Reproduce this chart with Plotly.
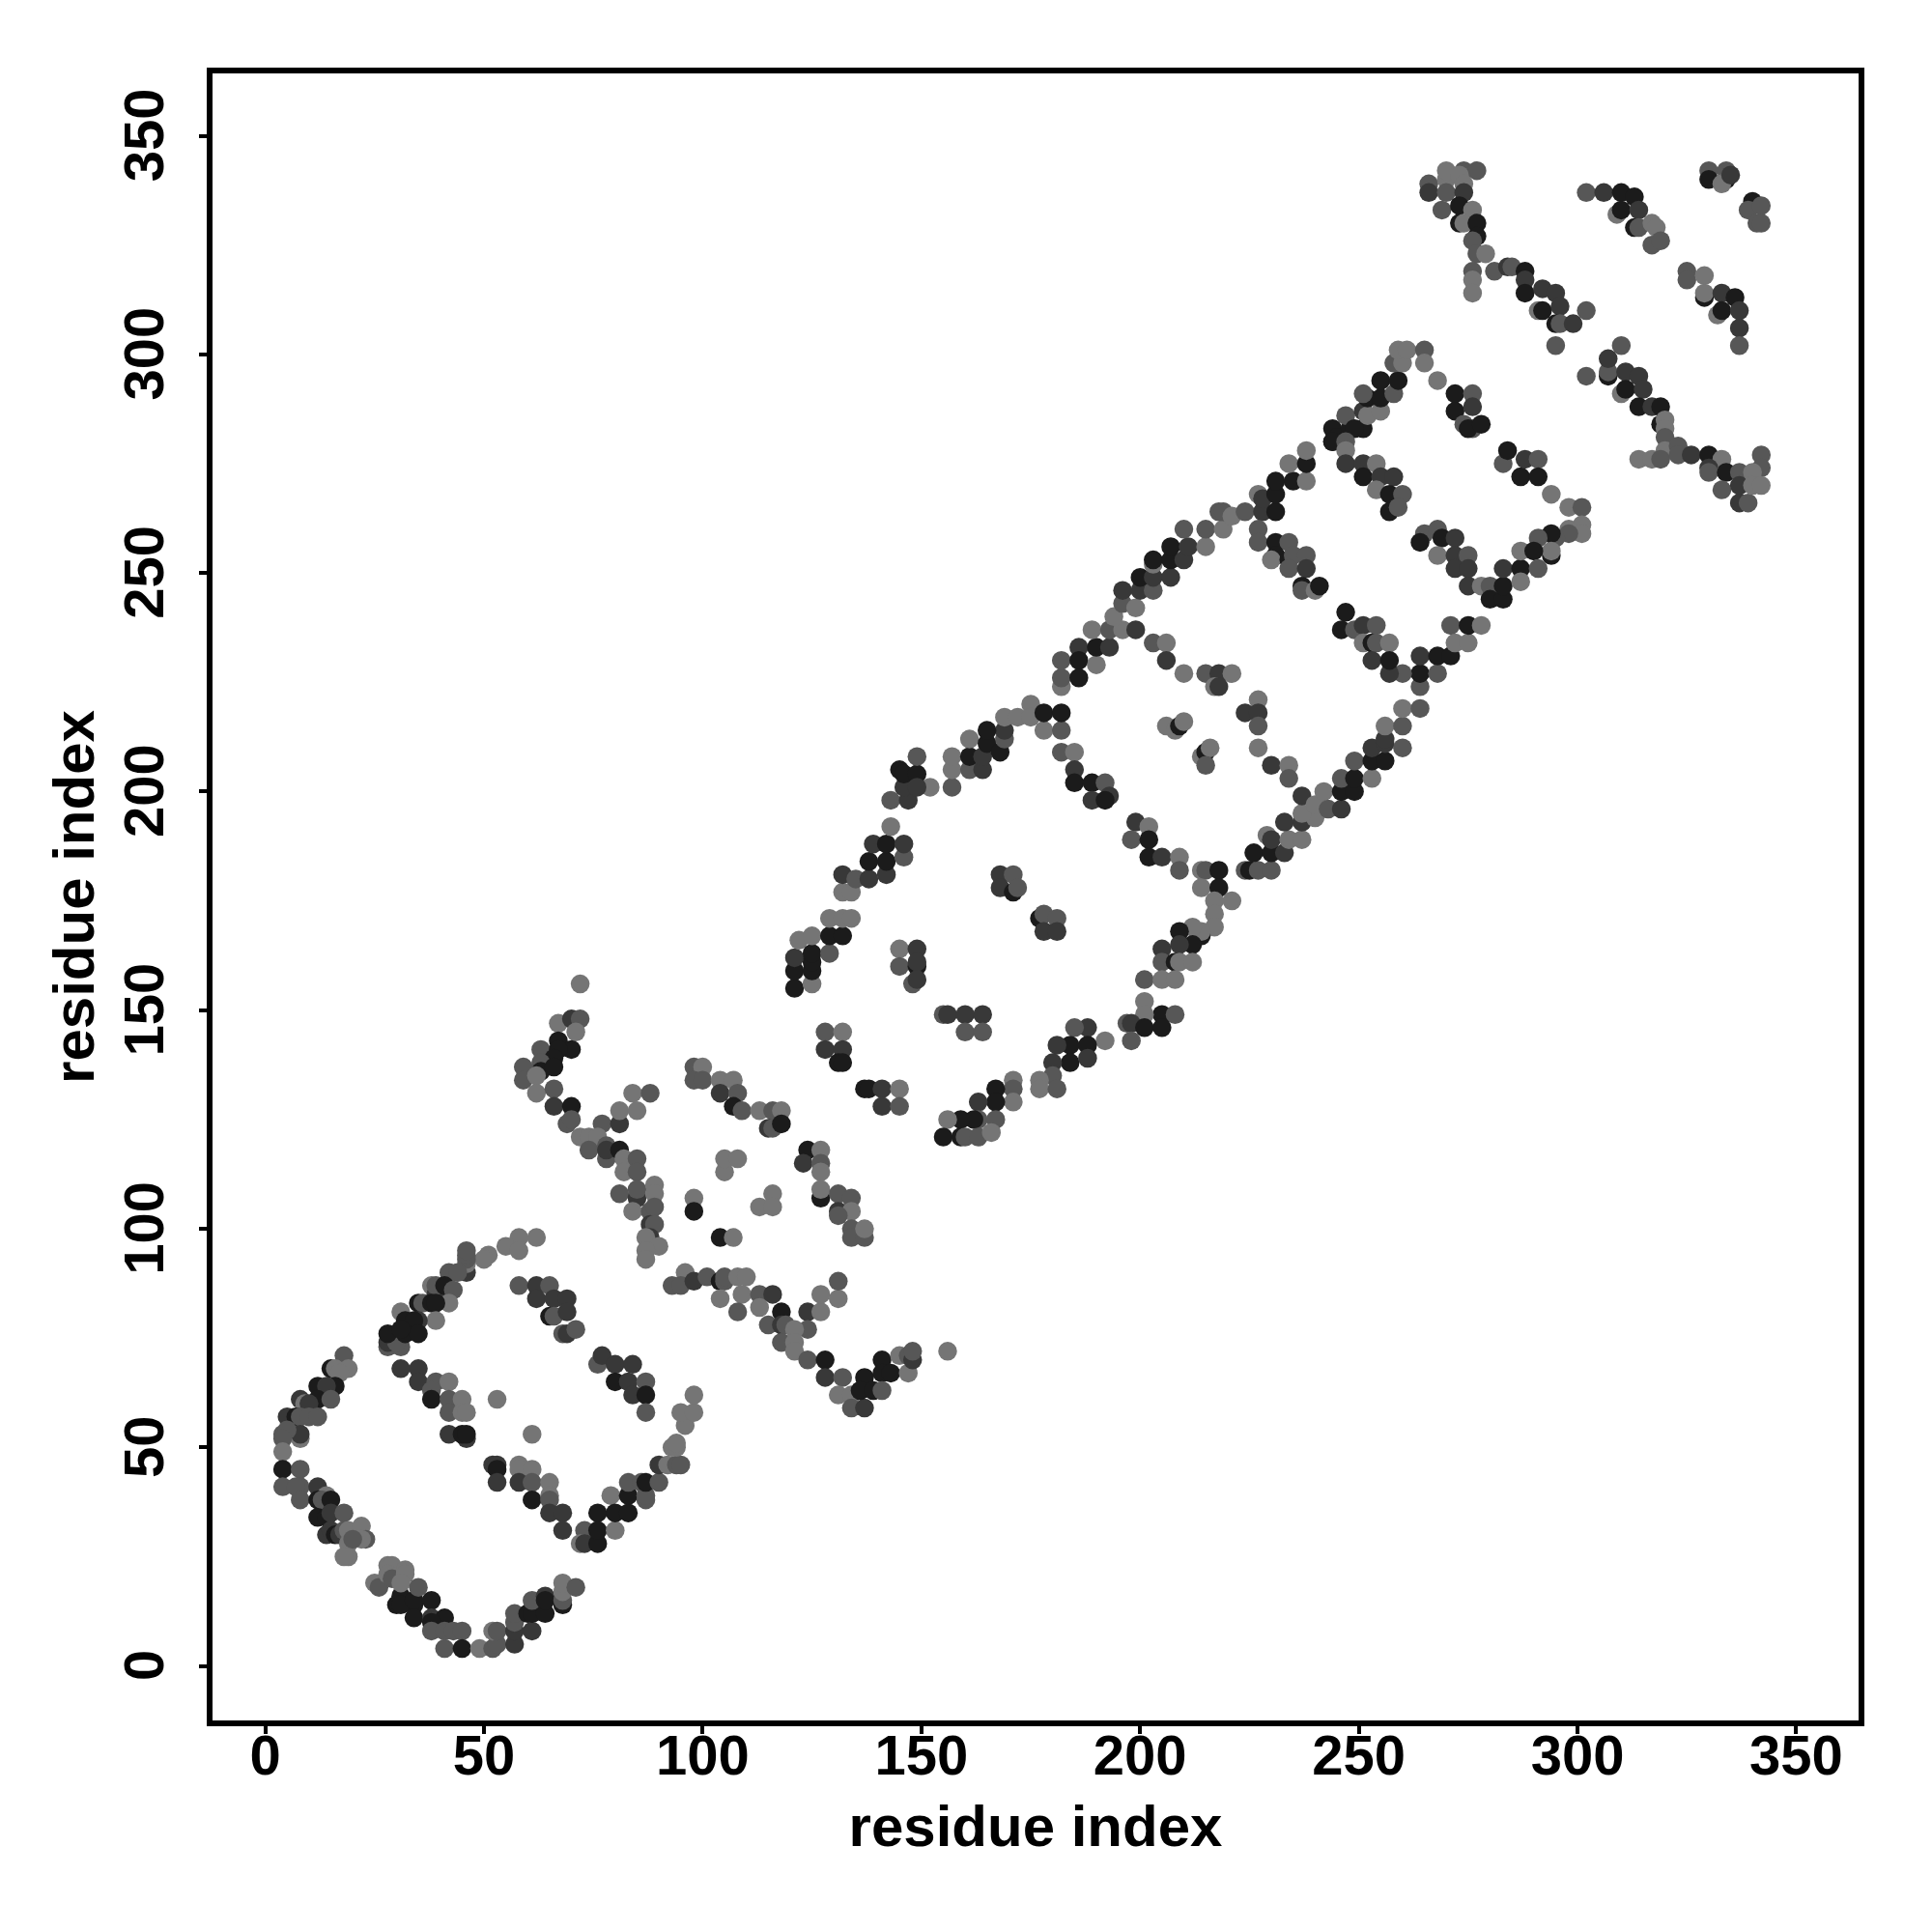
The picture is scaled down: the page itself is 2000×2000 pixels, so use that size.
import plotly.graph_objects as go

# shade classes: 0 darkest ... 3 lightest
shade_colors = ["#1b1b1b", "#383838", "#575757", "#757575"]
tick_values = [0, 50, 100, 150, 200, 250, 300, 350]
axis_title = "residue index"

# (residue i, residue j, shade class)
arc_top_left = [(62,98,3),(58,98,3),(55,96,3),(58,95,3),(51,94,3),(50,93,3),(46,90,1),(46,92,3),(46,93,2),(46,94,2),(46,95,2),
(42,90,2),(44,90,2),(38,87,3),(39,85,1),(39,87,2),(41,87,0),(43,86,2),(42,83,3),(35,83,0),(36,83,2),(38,83,0),(39,83,0),
(31,81,3),(39,79,3),(32,79,0),(35,79,1),(34,79,0),(28,73,2),(31,73,2),(28,74,1),(30,74,2),(28,76,0),(32,76,0),(35,76,0),(31,77,0)]
arc_left = [(18,71,2),(15,68,0),(16,68,3),(19,68,3),(17,67,3),(12,64,0),(16,64,0),(14,64,1),(12,61,0),(8,61,1),(9,60,3),(15,61,2),(10,60,1),
(5,57,1),(7,57,0),(8,57,2),(10,57,2),(12,57,2),(4,53,2),(8,52,3),(8,53,1),(5,54,2),(4,52,2),(4,49,3),(4,45,0),(8,45,2),
(4,41,2),(8,41,2),(7,41,2),(12,41,1),(8,38,2),(14,39,3),(12,38,0),(13,38,2),(15,38,0),(12,34,0),(14,34,0),(15,35,1),(18,35,2),
(14,30,1),(15,31,1),(16,30,0),(17,30,1),(18,31,2),(19,31,3),(22,32,3),(23,29,2),(22,29,3),(19,28,3),(19,25,3),(18,25,3),(20,29,2)]
arc_bottom = [(31,16,0),(30,14,0),(34,14,0),(31,14,0),(34,15,0),(38,15,0),(25,19,3),(26,18,2),(28,23,3),(29,23,3),(28,21,3),(29,20,2),(32,22,3),(32,21,3),(31,19,3),(35,18,2),
(34,11,0),(38,11,1),(41,11,0),(38,10,0),(38,8,2),(41,8,2),(43,8,2),(45,8,2),(41,4,2),(45,4,0),(49,4,3),(52,4,2),(53,5,2),
(52,8,3),(53,8,2),(57,5,1),(57,8,1),(61,8,1),(57,10,2),(57,12,2),(60,12,0),(61,12,0),(64,12,0),(61,15,2),(64,16,1),(64,15,0),
(68,14,0),(68,15,2),(68,17,3),(68,19,3),(71,18,2)]
inner_one = [(31,68,1),(35,68,1),(35,65,1),(39,65,2),(42,65,3),(38,63,2),(38,61,0),(42,61,2),(45,61,3),(42,58,2),(45,58,3),(46,58,3),
(42,53,1),(46,52,1),(45,53,0),(46,53,0),(53,61,3),(61,53,3),(52,46,1),(53,46,1),(53,45,0),(53,42,1),(58,46,3),(58,45,3),(61,45,3),
(58,42,1),(61,42,2),(65,42,3),(61,38,0),(65,39,3),(65,38,2),(65,35,1),(68,35,1),(68,31,1)]
arc_lower_right = [(73,31,2),(72,28,3),(73,28,1),(76,28,0),(76,31,0),(76,35,0),(80,31,3),(79,39,3),(80,35,0),(83,35,0),(83,39,0),(83,42,2),
(87,38,2),(87,39,2),(86,42,2),(87,42,0),(90,42,2),(90,46,1),(92,46,3),(94,46,2),(95,46,2),(93,50,3),(94,50,3),(94,51,3),
(96,55,3),(95,58,3),(98,58,3),(98,62,3)]
inner_two = [(58,87,2),(62,87,1),(65,87,2),(62,84,1),(66,84,1),(69,84,1),(65,80,0),(66,80,2),(69,81,1),(68,76,2),(69,76,1),(71,77,2),
(76,69,2),(77,71,1),(80,69,1),(84,69,1),(80,65,0),(83,65,1),(87,65,2),(84,62,1),(87,62,0),(87,58,2)]
arm_up = [(72,156,3),(67,147,3),(70,148,1),(72,148,2),(71,145,3),(67,143,0),(70,141,0),(63,141,2),(67,141,0),(66,139,0),(59,137,2),(63,138,2),(63,136,0),(66,137,0),
(59,134,2),(62,135,3),(62,131,3),(66,132,2),(66,128,1),(70,128,0),(69,124,2),(70,125,2),(77,124,2),(81,124,1),(81,127,3),(85,127,3),(84,131,3),(88,131,2),
(72,121,3),(74,121,3),(76,121,3),(74,118,2),(78,119,2),(78,116,2),(78,118,1),(81,118,0),(82,116,3),(85,116,2),(82,113,3),(85,113,2),
(81,108,2),(85,107,1),(85,109,2),(89,110,3),(89,108,3),(84,104,3),(88,104,2),(89,105,2),(88,101,1),(89,101,2),(88,98,1),(87,98,3),(90,96,3),(87,95,3),(87,93,3)]
inner_three = [(98,107,3),(98,104,0),(105,113,3),(105,116,3),(108,116,3),(104,98,0),(107,98,3),(116,108,3),(113,105,3),(116,105,3),
(98,137,2),(100,137,3),(98,134,2),(100,134,2),(104,134,3),(107,134,3),(104,131,1),(108,131,2),(107,128,0),(109,127,2),(113,127,3),(116,127,2),(118,127,3),(115,123,1),(116,123,2),(118,124,0),
(124,118,0),(127,118,3),(123,115,1),(127,115,2),(127,113,3),(127,107,0),(127,109,3),(131,108,2),(134,107,2),(131,104,1),(134,104,3),(131,103,2),(134,100,2),(134,98,2),(137,98,2),(137,100,3),
(128,145,2),(132,145,3),(128,141,1),(132,141,1),(131,138,0),(132,138,0),(137,132,0),(138,132,0),(141,132,1),(145,132,3),(141,128,1),(145,128,2)]
arm_down = [(93,87,2),(96,90,3),(95,87,2),(98,88,1),(101,89,2),(104,88,0),(105,88,2),(105,89,2),(108,89,3),(110,89,3),(104,84,3),(109,85,3),(113,85,2),(116,85,1),
(108,81,2),(113,82,3),(118,81,0),(124,81,1),(127,81,3),(127,85,3),(131,84,3),(131,88,2),(124,77,2),(115,78,2),(118,78,1),(119,78,2),(121,77,3),(118,74,2),(121,74,3),(121,72,3),
(124,70,2),(128,70,0),(128,66,1),(132,66,2),(131,62,3),(134,62,3),(134,59,2),(137,59,1),(137,66,0),(136,63,0),(141,70,0),(141,67,0),(143,67,0),(139,63,0),(141,63,2),
(145,71,3),(147,67,3),(147,71,2),(148,70,1),(148,72,2),(156,72,3)]
arc_mid_upper = [(121,155,0),(121,159,0),(125,156,3),(125,159,0),(121,162,1),(122,166,3),(125,161,0),(125,163,0),(125,167,3),(129,163,2),(129,167,0),(132,167,0),(129,171,3),(132,171,3),(134,171,3),
(132,177,3),(134,177,3),(132,181,1),(135,180,2),(138,180,1),(142,181,1),(138,184,0),(142,184,0),(146,185,2),(139,188,1),(142,188,0),(146,188,1),(143,192,3),
(143,198,2),(147,198,1),(146,201,1),(145,205,0),(146,204,0),(149,204,0),(149,208,2),(152,201,3),(149,201,1),(157,201,2),(157,205,3),(157,208,3),(161,205,2),(164,205,1),(161,208,0),(161,212,3),
(164,208,1),(165,211,0),(168,209,0),(169,212,2),(169,214,1),(165,214,0),(169,217,3),(172,217,3),(175,220,3),(175,217,3),(178,214,3),(182,214,2),(178,218,0),(182,218,0)]
strand_mid = [(182,209,2),(185,209,3),(185,205,1),(185,202,0),(189,202,0),(192,202,2),(189,198,1),(193,199,1),(192,198,0),(199,193,1),(202,192,3),(198,189,2),(202,189,0),(202,185,0),(205,185,1),(209,185,3),(209,182,2),
(214,182,3),(215,182,2),(218,182,0),(214,178,3),(218,178,0),(217,175,3),(221,175,3),(217,172,3),(217,169,3),(214,167,0),(214,168,3),(212,169,3),(209,168,0),(212,165,0),(209,165,1),(205,164,1),
(205,161,2),(208,161,0),(209,161,3),(212,161,3),(201,157,2),(205,157,3),(208,157,3),(201,152,3),(205,149,0),(208,149,2),(201,149,3),(197,147,2),(198,147,1),(201,146,0),(205,146,0),(198,143,2),
(192,143,3),(188,146,1),(185,146,2),(188,142,0),(184,142,0),(181,142,1),(184,138,0),(180,138,1),(188,139,1),(180,135,2),(177,134,3),(177,132,3),(181,132,2),
(171,134,3),(171,132,2),(171,129,3),(167,132,0),(167,129,0),(163,129,1),(167,125,2),(163,125,2),(162,125,0),(159,125,0),(156,125,3),(155,121,0),(159,121,0),(160,121,2),(163,121,2),(166,122,3)]
inner_four = [(168,181,1),(171,181,2),(168,178,1),(171,177,0),(172,178,2),(177,171,0),(178,172,2),(181,171,2),(178,168,1),(181,168,1),
(145,164,3),(149,164,1),(145,160,2),(149,160,0),(149,161,1),(148,156,2),(149,157,1),(155,149,2),(156,149,1),(160,149,1),(164,149,1),(160,145,2),(164,145,2),
(206,215,3),(208,214,3),(209,215,0),(210,216,3),(214,208,3),(215,209,0),(216,210,3),(215,206,2)]
arc_upper_two = [(182,224,3),(182,226,2),(182,230,2),(186,233,1),(186,230,0),(186,226,0),(190,229,3),(190,233,0),(189,237,3),(193,233,1),(193,237,2),(196,237,3),(199,237,1),(194,240,3),(196,243,2),(199,242,3),
(196,246,1),(200,246,1),(203,246,2),(200,249,0),(203,249,1),(207,249,1),(203,252,3),(203,253,0),(207,253,0),(210,253,1),(207,256,0),(211,256,1),(210,260,2),
(215,256,3),(215,260,2),(219,260,3),(218,264,2),(219,264,2),(221,263,3),(224,264,2),(228,264,1),(231,264,0),(227,268,3),(228,267,1),(231,268,0),(231,271,0),(235,271,0),(234,275,3),(238,271,3),(238,275,0),(238,278,3),
(244,280,0),(244,283,0),(245,281,0),(248,283,0),(247,286,2),(251,283,0),(249,283,0),(251,287,1),(252,286,3),(255,287,3),(252,290,0),(255,290,0),(251,291,2),(255,294,0),(258,291,2),(259,294,0),(258,298,2),(260,298,3),(259,301,3),(261,301,3),(265,301,2),(265,298,3),(268,294,3)]
strand_two = [(227,260,2),(227,257,2),(231,257,0),(234,257,2),(231,254,0),(230,253,3),(234,253,0),(235,254,2),(238,254,2),(234,251,2),(238,251,1),(237,247,0),(237,246,2),(240,246,3),(241,247,0),
(203,234,2),(206,234,3),(206,230,1),(210,227,3),(215,227,2),(218,227,1),(221,227,3),(217,224,3),(218,224,1),(227,221,3),(224,218,1),(227,218,1),(227,215,2),(227,210,3),(230,206,1),(234,206,3),(234,203,2)]
arc_lower_two = [(224,182,2),(225,182,0),(227,182,2),(230,182,2),(226,186,0),(230,186,0),(233,186,1),(229,190,3),(230,189,1),(234,189,3),(237,189,3),(233,193,1),(237,193,1),(240,194,3),(237,195,3),(237,199,1),(240,197,3),(242,200,3),(243,196,2),(246,196,1),(246,200,0),(249,200,0),(246,203,2),(249,203,0),(249,207,2),(253,203,3),(253,207,0),(256,207,0),(253,210,1),(256,211,1),(256,212,1),(260,210,2),
(256,215,3),(260,215,2),(260,219,3),(264,219,2),(264,224,2),(264,227,0),(268,227,2),(260,227,2),(257,227,1),(264,231,1),(268,231,0),(271,231,0),(272,234,3),(275,234,3),(271,238,2),(275,238,0),(278,238,3)]
strand_three = [(247,241,0),(246,237,0),(249,237,2),(251,238,1),(254,238,2),(251,234,3),(253,234,0),(254,234,2),(257,234,3),(253,230,1),(257,230,0),
(265,259,2),(264,257,0),(268,260,2),(269,258,0),(272,258,1),(268,254,3),(272,254,1),(275,254,2),(272,251,1),(275,251,1),(275,247,1),(278,247,3),(280,247,2),(280,244,0),(283,244,0),(283,247,0),(283,251,1),(287,251,0),(287,248,3),(287,255,3),
(244,280,0),(247,280,2),(247,278,3),(247,275,1),(251,275,1),(254,275,3),(251,272,0),(255,272,1),(258,272,1),(254,269,3),(257,268,0),(260,268,2),(257,264,0),(259,265,2)]
top_cluster = [(266,339,2),(266,337,1),(270,340,3),(270,342,3),(274,342,2),(277,342,2),(273,341,3),(274,339,3),(270,337,2),(274,337,1),(269,333,2),(273,334,0),(276,333,3),(273,330,0),(274,330,3),(277,330,0),(277,327,0),(276,326,2),(277,323,2),(279,323,3),
(276,319,2),(276,317,3),(276,314,3),(281,319,2),(284,320,1),(285,320,2),(288,319,0),(288,317,1),(288,314,0),(292,315,1),(295,314,1),(291,310,3),(292,310,0),(296,311,1),(295,307,0),(296,307,2),(299,307,1),(302,310,2),(295,302,2)]
top_right = [(302,337,2),(306,337,1),(310,337,0),(313,336,0),(309,332,3),(310,333,0),(314,333,1),(313,329,0),(314,329,2),(317,330,3),(318,329,3),(317,325,2),(319,326,2),
(330,342,2),(330,340,0),(334,340,0),(334,342,2),(333,339,3),(335,341,1),(340,335,0),(339,333,2),(342,334,2),(341,330,2),(342,330,2),
(325,319,2),(325,317,2),(329,318,3),(329,313,0),(329,314,3),(333,314,1),(336,313,0),(332,309,3),(333,310,0),(337,310,1),(337,306,1),(337,302,2)]
lower_right = [(310,302,2),(302,295,2),(307,295,0),(307,296,2),(307,299,1),(311,296,1),(314,295,1),(310,291,3),(311,292,0),(315,292,1),(314,288,0),(317,288,1),(319,288,0),(319,284,0),(320,285,3),(320,283,3),(320,281,2),(320,278,3),
(314,276,3),(317,276,3),(319,276,2),(323,279,2),(323,277,2),(326,277,1),(330,277,0),(333,276,3),(330,274,1),(330,273,2),(334,273,0),(337,273,2),(333,269,2),(337,270,1),(337,266,1),(339,266,2),(342,277,2),(342,274,2),(340,273,3),(340,270,3),(342,270,3)]
inner_five = [(272,291,0),(276,291,2),(272,287,0),(276,288,1),(274,284,2),(276,283,2),(275,283,0),(278,284,0),(283,275,2),(284,278,0),(288,276,1),(291,276,2),(287,272,0),(291,272,0),(294,268,3),(298,265,3),(301,265,2),(301,261,3),(301,259,3),(298,260,3),(298,259,2),
(295,258,2),(294,259,0),(291,258,2),(294,254,0),(294,255,3),(290,255,0),(291,251,2)]

groups = [arc_top_left, arc_left, arc_bottom, inner_one, arc_lower_right, inner_two, arm_up, inner_three, arm_down,
          arc_mid_upper, strand_mid, inner_four, arc_upper_two, strand_two, arc_lower_two, strand_three,
          top_cluster, top_right, lower_right, inner_five]

res_x = [p[0] for g in groups for p in g]
res_y = [p[1] for g in groups for p in g]
colors = [shade_colors[p[2]] for g in groups for p in g]

font = "Liberation Sans, Arial, sans-serif"
fig = go.Figure(go.Scatter(x=res_x, y=res_y, mode="markers",
                           marker=dict(size=19.5, color=colors, line=dict(width=0)),
                           showlegend=False, hoverinfo="skip"))
axis_common = dict(
    tickmode="array", tickvals=tick_values, showgrid=False, zeroline=False,
    showline=True, mirror=True, linecolor="black", linewidth=5.5,
    ticks="outside", ticklen=8, tickwidth=4, tickcolor="black",
    tickfont=dict(family=font, size=58, color="black", weight="bold"),
)
fig.update_xaxes(range=[-12.05, 364.25], ticklabelstandoff=-27,
                 title=dict(text=axis_title, standoff=23,
                 font=dict(family=font, size=60, color="black", weight="bold")), **axis_common)
fig.update_yaxes(range=[-12.45, 364.25], tickangle=-90, ticklabelstandoff=14, ticklabelshift=8,
                 title=dict(text=axis_title, standoff=1,
                 font=dict(family=font, size=60, color="black", weight="bold")), **axis_common)
fig.update_layout(width=2000, height=2000, autosize=False,
                  margin=dict(l=219.5, r=75.5, t=75.5, b=218.5, pad=0, autoexpand=False),
                  paper_bgcolor="white", plot_bgcolor="white")
fig.write_html("out.html", config={"displayModeBar": False}, post_script="document.body.style.margin='0';")
